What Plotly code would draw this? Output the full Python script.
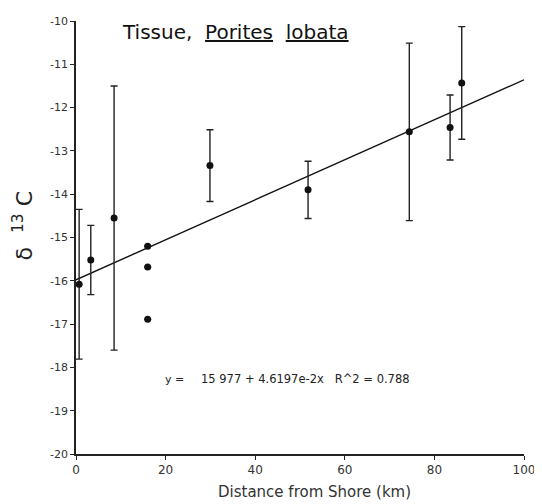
import plotly.graph_objects as go

# Data
dist_km = [0.7, 3.3, 8.5, 16.0, 16.0, 16.0, 29.9, 51.8, 74.4, 83.5, 86.1]
delta13c = [-16.08, -15.52, -14.55, -15.20, -15.68, -16.89, -13.34, -13.90, -12.56, -12.46, -11.43]
err_sd = [1.73, 0.80, 3.05, 0.0, 0.0, 0.0, 0.83, 0.66, 2.05, 0.75, 1.30]

fit_intercept = -15.977
fit_slope = 4.6197e-2
fit_x = [0, 100]
fit_y = [fit_intercept + fit_slope * v for v in fit_x]

x_ticks = [0, 20, 40, 60, 80, 100]
y_ticks = [-20, -19, -18, -17, -16, -15, -14, -13, -12, -11, -10]

FONT = "DejaVu Sans, Verdana, sans-serif"

# page has an 8px body margin; plot area should sit at x 76..526, y 15..454
PL, PT, PW, PH = 76, 15, 450, 439

fig = go.Figure()
fig.add_trace(go.Scatter(x=fit_x, y=fit_y, mode="lines",
                         line=dict(color="#111", width=1.4), showlegend=False))
fig.add_trace(go.Scatter(
    x=dist_km, y=delta13c, mode="markers",
    marker=dict(color="#111", size=7),
    error_y=dict(type="data", array=err_sd, visible=True, color="#222",
                 thickness=1.4, width=3.5),
    showlegend=False))

fig.update_layout(
    width=534, height=496,
    margin=dict(l=PL - 8, r=16, t=PT - 8, b=496 - (PT - 8) - PH),
    plot_bgcolor="white", paper_bgcolor="white",
    font=dict(family=FONT, color="#222"),
    xaxis=dict(range=[0, 100], tickvals=x_ticks, ticktext=[str(v) for v in x_ticks],
               showgrid=False, zeroline=False, showline=True, linecolor="#222",
               linewidth=1.5, ticks="outside", ticklen=4, tickcolor="#222",
               tickfont=dict(size=12, color="#333", family=FONT)),
    yaxis=dict(range=[-20, -10], tickvals=y_ticks, ticktext=[str(v) for v in y_ticks],
               showgrid=False, zeroline=False, showline=True, linecolor="#222",
               linewidth=1.5, ticks="outside", ticklen=4, tickcolor="#222",
               tickfont=dict(size=11, color="#333", family=FONT)),
)


def px(xp):
    return (xp - PL) / PW


def py(yp):
    return (PT + PH - yp) / PH


fig.add_annotation(text="Tissue,&nbsp; <u>Porites</u>&nbsp; <u>lobata</u>", xref="paper", yref="paper",
                   x=px(120), y=py(26), xanchor="left", yanchor="middle",
                   showarrow=False, font=dict(size=20, color="#111", family=FONT))
fig.add_annotation(text="y =", xref="paper", yref="paper",
                   x=px(163), y=py(378), xanchor="left", yanchor="middle",
                   showarrow=False, font=dict(size=11, color="#222", family=FONT))
fig.add_annotation(text="15 977 + 4.6197e-2x&nbsp;&nbsp; R^2 = 0.788", xref="paper", yref="paper",
                   x=px(200), y=py(378), xanchor="left", yanchor="middle",
                   showarrow=False, font=dict(size=11.5, color="#222", family=FONT))
fig.add_annotation(text="δ&nbsp;&nbsp;<sup>13</sup>&nbsp;C", xref="paper", yref="paper",
                   x=px(23), y=py(223), xanchor="center", yanchor="middle",
                   textangle=-90, showarrow=False, font=dict(size=22, color="#222", family=FONT))
fig.add_annotation(text="Distance from Shore (km)", xref="paper", yref="paper",
                   x=px(316), y=py(493), xanchor="center", yanchor="middle",
                   showarrow=False, font=dict(size=15, color="#333", family=FONT))

fig.write_html("out.html")
